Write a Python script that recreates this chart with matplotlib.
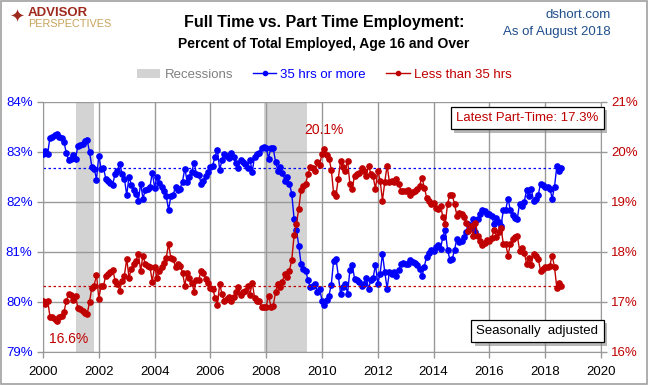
import matplotlib
matplotlib.use("Agg")
import matplotlib.pyplot as plt
import matplotlib.patheffects as pe
import numpy as np
from matplotlib.lines import Line2D
from matplotlib.patches import Patch, Rectangle

# ---------------- data (monthly, Jan 2000 - Aug 2018) ----------------
start_year = 2000
full_time = (
    [82.97, 83.03, 82.97, 83.29, 83.30, 83.34, 83.37, 83.31, 83.28, 83.20, 82.99, 82.84]  # 2000
    + [82.86, 82.95, 82.87, 83.12, 83.15, 83.17, 83.22, 83.24, 83.00, 82.71, 82.67, 82.45]  # 2001
    + [82.93, 82.67, 82.68, 82.47, 82.43, 82.39, 82.35, 82.57, 82.63, 82.77, 82.57, 82.47]  # 2002
    + [82.14, 82.51, 82.34, 82.24, 82.17, 82.03, 82.37, 82.07, 82.24, 82.27, 82.30, 82.59]  # 2003
    + [82.29, 82.51, 82.38, 82.30, 82.22, 82.12, 81.84, 82.12, 82.14, 82.31, 82.24, 82.27]  # 2004
    + [82.41, 82.67, 82.41, 82.51, 82.61, 82.79, 82.56, 82.55, 82.37, 82.42, 82.53, 82.61]  # 2005
    + [82.71, 82.73, 82.91, 83.05, 82.64, 82.84, 82.97, 82.93, 82.89, 82.99, 82.90, 82.79]  # 2006
    + [82.69, 82.85, 82.81, 82.77, 82.68, 82.85, 82.61, 82.91, 82.97, 82.99, 83.09, 83.10]  # 2007
    + [83.09, 82.87, 83.09, 83.08, 82.81, 82.63, 82.70, 82.59, 82.43, 82.50, 82.37, 82.16]  # 2008
    + [81.66, 81.44, 81.13, 80.76, 80.67, 80.63, 80.43, 80.30, 80.33, 80.37, 80.20, 80.26]  # 2009
    + [80.03, 79.93, 80.05, 80.13, 80.35, 80.83, 80.87, 80.53, 80.17, 80.30, 80.37, 80.17]  # 2010
    + [80.64, 80.74, 80.47, 80.43, 80.41, 80.33, 80.37, 80.49, 80.27, 80.43, 80.49, 80.74]  # 2011
    + [80.37, 80.57, 80.97, 80.60, 80.27, 80.60, 80.57, 80.60, 80.53, 80.64, 80.77, 80.78]  # 2012
    + [80.77, 80.76, 80.85, 80.80, 80.78, 80.74, 80.67, 80.51, 80.71, 80.91, 80.99, 81.04]  # 2013
    + [81.01, 81.11, 81.14, 81.07, 81.31, 81.44, 81.04, 80.85, 80.86, 81.04, 81.27, 81.21]  # 2014
    + [81.23, 81.31, 81.41, 81.57, 81.49, 81.67, 81.41, 81.67, 81.77, 81.85, 81.83, 81.76]  # 2015
    + [81.77, 81.72, 81.56, 81.69, 81.60, 81.52, 81.84, 81.84, 82.07, 81.84, 81.74, 81.69]  # 2016
    + [81.67, 81.97, 81.92, 82.01, 82.24, 82.12, 82.26, 82.03, 82.07, 82.14, 82.37, 82.34]  # 2017
    + [82.31, 82.30, 82.27, 82.07, 82.30, 82.72, 82.62, 82.68]                              # 2018
)
part_time = (
    [17.03, 16.97, 17.03, 16.71, 16.70, 16.66, 16.63, 16.69, 16.72, 16.80, 17.01, 17.16]  # 2000
    + [17.14, 17.05, 17.13, 16.88, 16.85, 16.83, 16.78, 16.76, 17.00, 17.29, 17.33, 17.55]  # 2001
    + [17.07, 17.33, 17.32, 17.53, 17.57, 17.61, 17.65, 17.43, 17.37, 17.23, 17.43, 17.53]  # 2002
    + [17.86, 17.49, 17.66, 17.76, 17.83, 17.97, 17.63, 17.93, 17.76, 17.73, 17.70, 17.41]  # 2003
    + [17.71, 17.49, 17.62, 17.70, 17.78, 17.88, 18.16, 17.88, 17.86, 17.69, 17.76, 17.73]  # 2004
    + [17.59, 17.33, 17.59, 17.49, 17.39, 17.21, 17.44, 17.45, 17.63, 17.58, 17.47, 17.39]  # 2005
    + [17.29, 17.27, 17.09, 16.95, 17.36, 17.16, 17.03, 17.07, 17.11, 17.01, 17.10, 17.21]  # 2006
    + [17.31, 17.15, 17.19, 17.23, 17.32, 17.15, 17.39, 17.09, 17.03, 17.01, 16.91, 16.90]  # 2007
    + [16.91, 17.13, 16.91, 16.92, 17.19, 17.37, 17.30, 17.41, 17.57, 17.50, 17.63, 17.84]  # 2008
    + [18.34, 18.56, 18.87, 19.24, 19.33, 19.37, 19.57, 19.70, 19.67, 19.63, 19.80, 19.74]  # 2009
    + [19.97, 20.07, 19.95, 19.87, 19.65, 19.17, 19.13, 19.47, 19.83, 19.70, 19.63, 19.83]  # 2010
    + [19.36, 19.26, 19.53, 19.57, 19.59, 19.67, 19.63, 19.51, 19.73, 19.57, 19.51, 19.26]  # 2011
    + [19.63, 19.43, 19.03, 19.40, 19.73, 19.40, 19.43, 19.40, 19.47, 19.36, 19.23, 19.22]  # 2012
    + [19.23, 19.24, 19.15, 19.20, 19.22, 19.26, 19.33, 19.49, 19.29, 19.09, 19.01, 18.96]  # 2013
    + [18.99, 18.89, 18.86, 18.93, 18.69, 18.56, 18.96, 19.15, 19.14, 18.96, 18.73, 18.79]  # 2014
    + [18.77, 18.69, 18.59, 18.43, 18.51, 18.33, 18.59, 18.33, 18.23, 18.15, 18.17, 18.24]  # 2015
    + [18.23, 18.28, 18.44, 18.31, 18.40, 18.48, 18.16, 18.16, 17.93, 18.16, 18.26, 18.31]  # 2016
    + [18.33, 18.03, 18.08, 17.99, 17.76, 17.88, 17.74, 17.97, 17.93, 17.86, 17.63, 17.66]  # 2017
    + [17.69, 17.70, 17.73, 17.93, 17.70, 17.28, 17.38, 17.32]                              # 2018
)
recession_start = [2001.17, 2007.92]
recession_end = [2001.83, 2009.46]
left_ticks = [79, 80, 81, 82, 83, 84]
right_ticks = [16, 17, 18, 19, 20, 21]
x_ticks = [2000, 2002, 2004, 2006, 2008, 2010, 2012, 2014, 2016, 2018, 2020]

dates = start_year + np.arange(len(full_time)) / 12.0

BLUE = "#0000FF"
RED = "#C00000"
GRID = "#999999"

plt.rcParams["font.family"] = ["Liberation Sans", "DejaVu Sans"]
fig = plt.figure(figsize=(6.48, 3.85), dpi=100)
fig.patch.set_facecolor("white")
fig.add_artist(Rectangle((0.0015, 0.0025), 0.997, 0.995, transform=fig.transFigure,
                         fill=False, edgecolor="#A0A0A0", linewidth=1.2))

ax = fig.add_axes([43 / 648, 1 - 352 / 385, (601 - 43) / 648, 250 / 385])
ax2 = ax.twinx()

for s, e in zip(recession_start, recession_end):
    ax.axvspan(s, e, color="#D3D3D3", lw=0, zorder=0)

ax.set_xlim(2000, 2020)
ax.set_ylim(79, 84)
ax2.set_ylim(16, 21)
ax.set_xticks(x_ticks)
ax.set_yticks(left_ticks)
ax2.set_yticks(right_ticks)
ax.set_yticklabels([f"{v}%" for v in left_ticks], color=BLUE, fontsize=9.5)
ax2.set_yticklabels([f"{v}%" for v in right_ticks], color=RED, fontsize=9.5)
ax.set_xticklabels([str(v) for v in x_ticks], fontsize=9.5)
ax.grid(True, color=GRID, linewidth=1.0, zorder=1)
ax.set_axisbelow(True)
for a in (ax, ax2):
    for sp in a.spines.values():
        sp.set_visible(False)
    a.tick_params(length=4, color=GRID, width=1)
ax.spines["bottom"].set_visible(True)
ax.spines["bottom"].set_color(GRID)
ax.spines["left"].set_visible(True)
ax.spines["left"].set_color(GRID)
ax2.spines["right"].set_visible(True)
ax2.spines["right"].set_color(GRID)
ax.tick_params(axis="x", pad=6)

ax.plot(dates, full_time, color=BLUE, lw=1.0, marker="o", ms=3.8, zorder=3)
ax2.plot(dates, part_time, color=RED, lw=1.0, marker="o", ms=3.8, zorder=3)

ax.hlines(full_time[-1], 2000, dates[-1], colors=BLUE, linestyles=(0, (2, 2)), lw=0.9, zorder=2)
ax2.hlines(part_time[-1], 2000, dates[-1], colors=RED, linestyles=(0, (2, 2)), lw=0.9, zorder=2)

imax = int(np.argmax(part_time))
imin = int(np.argmin(part_time))
ax2.annotate(f"{part_time[imax]:.1f}%", (dates[imax], part_time[imax]), xytext=(0, 8),
             textcoords="offset points", ha="center", va="bottom", color=RED, fontsize=10)
ax2.text(2000.2, 16.26, f"{part_time[imin]:.1f}%", color=RED, fontsize=10, ha="left", va="center")

t1 = ax2.text(2017.35, 20.68, f"Latest Part-Time: {part_time[-1]:.1f}%", color=RED, fontsize=9.5,
              ha="center", va="center", zorder=5,
              bbox=dict(boxstyle="square,pad=0.4", fc="white", ec="black", lw=0.9))
t2 = ax2.text(2017.72, 16.42, "Seasonally  adjusted", color="black", fontsize=9.5,
              ha="center", va="center", zorder=5,
              bbox=dict(boxstyle="square,pad=0.4", fc="white", ec="black", lw=0.9))
for t in (t1, t2):
    t.get_bbox_patch().set_path_effects(
        [pe.SimplePatchShadow(offset=(2.5, -2.5), shadow_rgbFace="#888888", alpha=0.6), pe.Normal()])

# titles
fig.text(324 / 648, 1 - 23 / 385, "Full Time vs. Part Time Employment:", ha="center", va="center",
         fontsize=11.5, fontweight="bold")
fig.text(324 / 648, 1 - 44 / 385, "Percent of Total Employed, Age 16 and Over", ha="center",
         va="center", fontsize=10, fontweight="bold")
fig.text(611 / 648, 1 - 15 / 385, "dshort.com", ha="right", va="center", fontsize=9.5, color="#1F4E8C")
fig.text(611 / 648, 1 - 32 / 385, "As of August 2018", ha="right", va="center", fontsize=9.5,
         color="#1F4E8C")
# logo
fig.text(17 / 648, 1 - 18 / 385, "\u2726", ha="center", va="center", fontsize=13,
         color="#9E2A1E", family=["DejaVu Sans"])
fig.text(28 / 648, 1 - 13 / 385, "ADVISOR", ha="left", va="center", fontsize=9.5,
         fontweight="bold", color="#9E2A1E")
fig.text(28 / 648, 1 - 24 / 385, "PERSPECTIVES", ha="left", va="center", fontsize=7.8,
         color="#C9A25A")

handles = [Patch(facecolor="#D3D3D3", edgecolor="none"),
           Line2D([0], [0], color=BLUE, marker="o", ms=3, lw=1),
           Line2D([0], [0], color=RED, marker="o", ms=3, lw=1)]
leg = fig.legend(handles, ["Recessions", "35 hrs or more", "Less than 35 hrs"], ncol=3,
                 loc="center", bbox_to_anchor=(324 / 648, 1 - 75 / 385), frameon=False,
                 fontsize=9.5, handlelength=1.8, columnspacing=1.5, handletextpad=0.3)
for t, c in zip(leg.get_texts(), ["#808080", BLUE, RED]):
    t.set_color(c)

fig.savefig("out.png", dpi=100, facecolor="white")
